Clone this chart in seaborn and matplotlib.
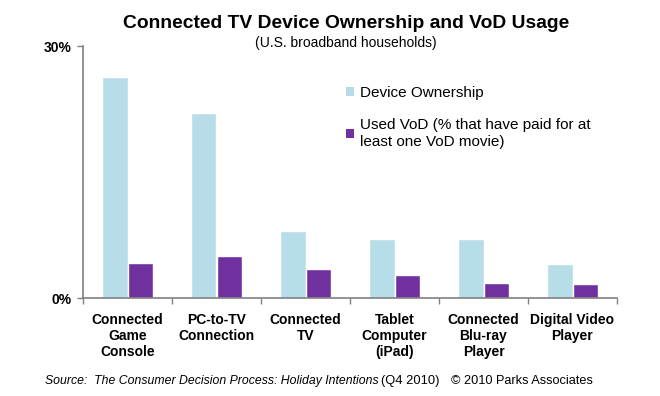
import matplotlib
matplotlib.use("Agg")
import matplotlib.pyplot as plt
import seaborn as sns
import pandas as pd
import numpy as np
from matplotlib.patches import Patch

categories = ["Connected\nGame\nConsole", "PC-to-TV\nConnection", "Connected\nTV",
              "Tablet\nComputer\n(iPad)", "Connected\nBlu-ray\nPlayer", "Digital Video\nPlayer"]
series = ["Device Ownership", "Used VoD (% that have paid for at\nleast one VoD movie)"]
ownership = [26.3, 22.0, 8.0, 7.0, 7.0, 4.0]
used_vod = [4.2, 5.0, 3.45, 2.7, 1.8, 1.7]
y_ticks = [0, 30]
y_tick_labels = ["0%", "30%"]

colors = ["#B7DDE8", "#7030A0"]

sns.set_theme(style="white")
plt.rcParams['font.family'] = ['Liberation Sans', 'DejaVu Sans']
plt.rcParams['text.color'] = 'black'

df = pd.DataFrame({
    "category": categories * 2,
    "series": [series[0]] * len(categories) + [series[1]] * len(categories),
    "value": ownership + used_vod,
})

fig = plt.figure(figsize=(6.6, 3.96), dpi=100)
ax = fig.add_axes([83/660, 1 - 298/396, (617-83)/660, (298-46)/396])

sns.barplot(data=df, x="category", y="value", hue="series", palette=colors,
            width=0.57, ax=ax, saturation=1, legend=False, errorbar=None)

ax.set_ylim(0, 30)
ax.set_xlim(-0.5, len(categories) - 0.5)
ax.set_yticks(y_ticks)
ax.set_yticklabels(y_tick_labels, fontweight="bold", fontsize=10)
ax.set_xticks(range(len(categories)))
ax.set_xticklabels(categories, fontweight="bold", fontsize=10, linespacing=1.18)
ax.set_xticks(np.arange(-0.5, len(categories), 1), minor=True)
ax.tick_params(axis="x", which="major", length=0, pad=11, labelcolor="black")
ax.tick_params(axis="x", which="minor", length=4, width=1, color="#808080", direction="out", bottom=True)
ax.tick_params(axis="y", length=4, width=1, color="#808080", direction="out", left=True, pad=4,
               labelcolor="black")
ax.set_xlabel("")
ax.set_ylabel("")
for s in ["top", "right"]:
    ax.spines[s].set_visible(False)
for s in ["left", "bottom"]:
    ax.spines[s].set_color("#808080")
    ax.spines[s].set_linewidth(1.2)

handles = [Patch(facecolor=c, edgecolor="none") for c in colors]
leg = ax.legend(handles, series, loc="upper left", bbox_to_anchor=(346/660, 1 - 86/396),
                bbox_transform=fig.transFigure, frameon=False, fontsize=11,
                handlelength=0.5, handleheight=0.5, handletextpad=0.4, labelspacing=1.2,
                borderpad=0, borderaxespad=0)
for t in leg.get_texts():
    t.set_linespacing(1.2)
    t.set_color("black")

fig.text(346/660, 1 - 24/396, "Connected TV Device Ownership and VoD Usage",
         ha="center", va="center", fontsize=13.9, fontweight="bold", color="black")
fig.text(346/660, 1 - 43/396, "(U.S. broadband households)",
         ha="center", va="center", fontsize=10, color="black")

# source line in pieces
fig.text(45/660, 1 - 381/396, "Source:  The Consumer Decision Process: Holiday Intentions",
         ha="left", va="center", fontsize=8.8, fontstyle="italic", color="black")
fig.text(381/660, 1 - 381/396, "(Q4 2010)", ha="left", va="center", fontsize=9.3, color="black")
fig.text(451/660, 1 - 381/396, "\u00a9 2010 Parks Associates", ha="left", va="center",
         fontsize=9.2, color="black")

fig.savefig("out.png", dpi=100)
